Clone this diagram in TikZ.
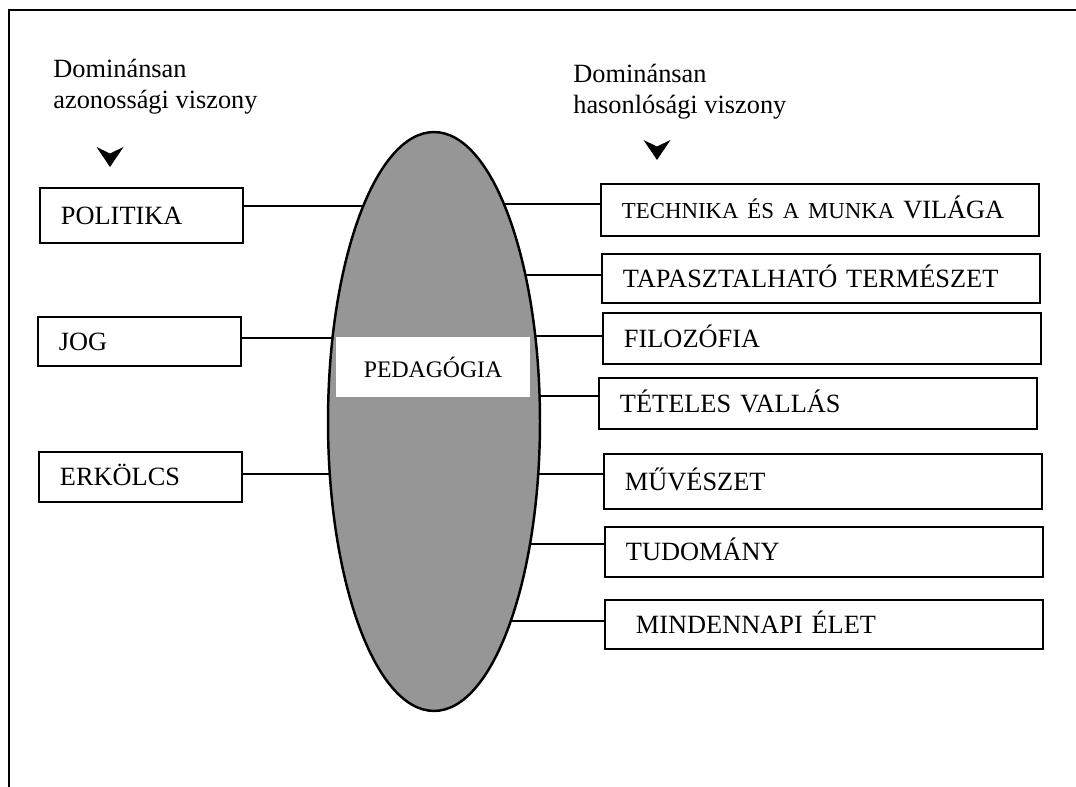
\documentclass[tikz,border=0pt]{standalone}
\usepackage{fontspec}
\setmainfont{Liberation Serif}
\usetikzlibrary{shapes.geometric,backgrounds}
\definecolor{pedgray}{RGB}{150,150,150}
\tikzset{
  box/.style={draw, line width=1.1pt, anchor=north west, inner xsep=0.42cm,
    inner ysep=0pt, align=left, text height=10pt, text depth=0pt,
    font=\fontsize{15}{17.6}\selectfont},
  leftbox/.style={box, text width=3.22cm},
  rightbox/.style={box, text width=7.92cm},
  headtext/.style={anchor=north west, inner sep=0pt, align=left,
    font=\fontsize{15}{17.6}\selectfont},
  link/.style={line width=1pt}
}
\begin{document}
\begin{tikzpicture}[x=0.02cm, y=-0.02cm]
\useasboundingbox (0,0) rectangle (1076,787);
% frame
\draw[line width=1.4pt] (1076,10) -- (9,10) -- (9,787);
% headings and their arrow tips
\node[headtext] (azon) at (53,59) {Dominánsan\\azonossági viszony};
\node[headtext] (hason) at (573,64) {Dominánsan\\hasonlósági viszony};
\foreach \x/\y in {110/147, 657/140}
  \fill (\x-13.5,\y) -- (\x,\y+6.5) -- (\x+13.5,\y) -- (\x,\y+20) -- cycle;
% pedagogy
\node[ellipse, draw, line width=1.4pt, fill=pedgray, minimum width=4.24cm,
  minimum height=11.58cm, inner sep=0pt] (ped) at (434,421.5) {};
\node[fill=white, minimum width=3.88cm, minimum height=1.2cm, inner sep=0pt,
  font=\fontsize{13.5}{16}\selectfont] (pedlabel) at (433,367) {PEDAGÓGIA};
% left side
\node[leftbox, minimum height=1.1cm] (pol) at (39,187) {POLITIKA};
\node[leftbox, minimum height=0.98cm] (jog) at (37,316) {JOG};
\node[leftbox, minimum height=1.0cm] (erk) at (38,451) {ERKÖLCS};
% right side
\node[rightbox, minimum height=1.04cm] (tech) at (600,183)
  {\mbox{\fontsize{13}{16}\selectfont TECHNIKA ÉS A MUNKA \fontsize{15}{17.6}\selectfont VILÁGA}};
\node[rightbox, minimum height=0.98cm] (tap) at (601,253) {TAPASZTALHATÓ TERMÉSZET};
\node[rightbox, minimum height=1.02cm] (fil) at (602,312) {FILOZÓFIA};
\node[rightbox, minimum height=1.02cm] (tet) at (598,377) {TÉTELES VALLÁS};
\node[rightbox, minimum height=1.1cm] (muv) at (603,453) {MŰVÉSZET};
\node[rightbox, minimum height=1.0cm] (tud) at (604,526) {TUDOMÁNY};
\node[rightbox, minimum height=0.98cm] (mind) at (604,599)
  {\hspace*{0.2cm}MINDENNAPI ÉLET};
% links, under the ellipse
\begin{scope}[on background layer]
\foreach \n/\d in {pol/9.5, jog/3.5, erk/3}
  \draw[link] ([yshift=\d*0.02cm]\n.east) coordinate (\n-c) -- (\n-c -| ped.center);
\foreach \n/\d in {tech/6, tap/3.5, fil/2.5, tet/7.5, muv/7.5, tud/8, mind/3.5}
  \draw[link] ([yshift=\d*0.02cm]\n.west) coordinate (\n-c) -- (\n-c -| ped.center);
\end{scope}
\end{tikzpicture}
\end{document}
